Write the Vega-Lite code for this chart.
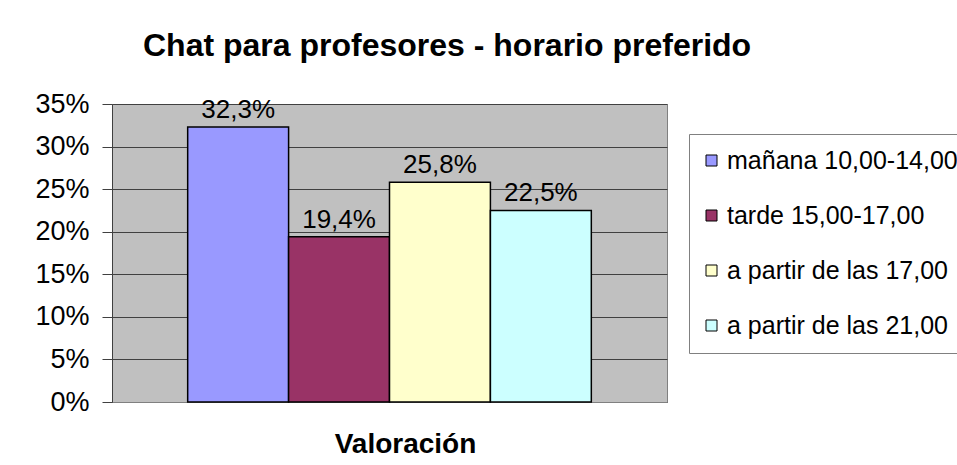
{
  "$schema": "https://vega.github.io/schema/vega-lite/v6.json",
  "autosize": "none",
  "width": 555,
  "height": 298,
  "padding": {"left": 112, "top": 104, "right": 290, "bottom": 63},
  "background": "white",
  "title": {
    "text": "Chat para profesores - horario preferido",
    "anchor": "start",
    "frame": "group",
    "dx": 31,
    "baseline": "alphabetic",
    "offset": 2,
    "fontSize": 32,
    "fontWeight": "bold",
    "font": "Liberation Sans",
    "color": "black"
  },
  "config": {
    "locale": {"number": {"decimal": ",", "thousands": ".", "grouping": [3], "currency": ["", " €"]}},
    "font": "Liberation Sans",
    "view": {"fill": "#C0C0C0", "stroke": "#808080", "strokeWidth": 1}
  },
  "data": {
    "values": [
      {"serie": "mañana 10,00-14,00", "valor": 0.323},
      {"serie": "tarde 15,00-17,00", "valor": 0.194},
      {"serie": "a partir de las 17,00", "valor": 0.258},
      {"serie": "a partir de las 21,00", "valor": 0.225}
    ]
  },
  "encoding": {
    "x": {
      "field": "serie",
      "type": "nominal",
      "sort": null,
      "scale": {"paddingInner": 0, "paddingOuter": 0.75},
      "axis": {
        "labels": false,
        "ticks": false,
        "domain": true,
        "domainColor": "#808080",
        "title": "Valoración",
        "titleFontSize": 28,
        "titleFontWeight": "bold",
        "titleColor": "black",
        "titleFont": "Liberation Sans",
        "titleX": 293,
        "titlePadding": 28
      }
    },
    "y": {
      "field": "valor",
      "type": "quantitative",
      "scale": {"domain": [0, 0.35]},
      "axis": {
        "format": ".0%",
        "values": [0, 0.05, 0.1, 0.15, 0.2, 0.25, 0.3, 0.35],
        "title": null,
        "labelFontSize": 27,
        "labelColor": "black",
        "labelPadding": 13,
        "tickSize": 10,
        "tickColor": "#404040",
        "domainColor": "#404040",
        "grid": true,
        "gridColor": "#404040",
        "gridOpacity": 1,
        "gridWidth": 1
      }
    }
  },
  "layer": [
    {
      "mark": {"type": "bar", "stroke": "black", "strokeWidth": 1.5},
      "encoding": {
        "color": {
          "field": "serie",
          "type": "nominal",
          "sort": null,
          "scale": {"range": ["#9999FF", "#993366", "#FFFFCC", "#CCFFFF"]},
          "legend": {
            "title": null,
            "orient": "none",
            "legendX": 577,
            "legendY": 30,
            "direction": "vertical",
            "strokeColor": "#808080",
            "fillColor": "white",
            "padding": 14,
            "rowPadding": 29,
            "symbolType": "square",
            "symbolSize": 121,
            "symbolOffset": -4,
            "symbolStrokeColor": "black",
            "symbolStrokeWidth": 1,
            "symbolOpacity": 1,
            "labelFontSize": 25,
            "labelColor": "black",
            "labelOffset": 3,
            "labelLimit": 400
          }
        }
      }
    },
    {
      "mark": {"type": "text", "baseline": "bottom", "dy": -4, "fontSize": 26, "color": "black"},
      "encoding": {
        "text": {"field": "valor", "type": "quantitative", "format": ".1%"}
      }
    }
  ]
}
